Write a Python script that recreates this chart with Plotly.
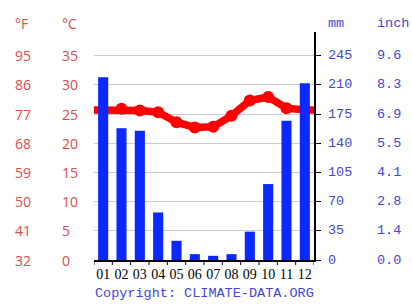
import plotly.graph_objects as go

months = ["01", "02", "03", "04", "05", "06", "07", "08", "09", "10", "11", "12"]
temp_c = [25.7, 25.9, 25.6, 25.3, 23.6, 22.7, 22.8, 24.7, 27.3, 27.9, 26.0, 25.7]
precip_mm = [219, 158, 155, 57, 23, 7, 5, 7, 34, 91, 167, 212]

c_ticks = [0, 5, 10, 15, 20, 25, 30, 35]
f_labels = ["32", "41", "50", "59", "68", "77", "86", "95"]
mm_ticks = [0, 35, 70, 105, 140, 175, 210, 245]
inch_labels = ["0.0", "1.4", "2.8", "4.1", "5.5", "6.9", "8.3", "9.6"]

W, H = 412, 305
L, R = 94.3, 314.5
T, B = 32, 260
c_max = (B - T) / 29.2 * 5
mm_max = c_max * 7

RED_TXT = "#dd4b4b"
BLUE_TXT = "#4646d2"
BAR = "#0a28ff"
LINE = "#ff0000"


def px(x):
    return (x - L) / (R - L)


idx = list(range(len(months)))
edge = (temp_c[0] + temp_c[-1]) / 2
line_x = [-0.5] + idx + [len(months) - 0.5]
line_y = [edge] + temp_c + [edge]

fig = go.Figure()
fig.add_trace(go.Bar(x=idx, y=precip_mm, yaxis="y2", marker=dict(color=BAR, line=dict(width=0)),
                     width=0.55, showlegend=False))
fig.add_trace(go.Scatter(x=line_x, y=line_y, yaxis="y", mode="lines",
                         line=dict(color=LINE, width=7.5), showlegend=False, cliponaxis=True))
fig.add_trace(go.Scatter(x=idx, y=temp_c, yaxis="y", mode="markers",
                         marker=dict(color=LINE, size=12), showlegend=False))

ann = []
for v, f in zip(c_ticks, f_labels):
    ann.append(dict(x=px(13), y=v, xref="paper", yref="y", text=f, showarrow=False,
                    xanchor="left", yanchor="middle",
                    font=dict(family="Open Sans", size=14, color=RED_TXT)))
    ann.append(dict(x=px(60), y=v, xref="paper", yref="y", text=str(v), showarrow=False,
                    xanchor="left", yanchor="middle",
                    font=dict(family="Open Sans", size=14, color=RED_TXT)))
for v, inch in zip(mm_ticks, inch_labels):
    ann.append(dict(x=px(327), y=v, xref="paper", yref="y2", text=str(v), showarrow=False,
                    xanchor="left", yanchor="middle",
                    font=dict(family="Liberation Mono", size=13.5, color=BLUE_TXT)))
    ann.append(dict(x=px(376), y=v, xref="paper", yref="y2", text=inch, showarrow=False,
                    xanchor="left", yanchor="middle",
                    font=dict(family="Liberation Mono", size=13.5, color=BLUE_TXT)))

hdr_y = 1 + (T - 24) / (B - T)
for x0, t, col, fam, sz in [(13, "°F", RED_TXT, "Open Sans", 14), (60, "°C", RED_TXT, "Open Sans", 14),
                            (327, "mm", BLUE_TXT, "Liberation Mono", 13.5),
                            (376, "inch", BLUE_TXT, "Liberation Mono", 13.5)]:
    ann.append(dict(x=px(x0), y=hdr_y, xref="paper", yref="paper", text=t, showarrow=False,
                    xanchor="left", yanchor="middle", font=dict(family=fam, size=sz, color=col)))

ann.append(dict(x=px(205), y=-(293 - B) / (B - T), xref="paper", yref="paper",
                text="Copyright: CLIMATE-DATA.ORG", showarrow=False, xanchor="center", yanchor="middle",
                font=dict(family="Liberation Mono", size=13.5, color=BLUE_TXT)))

bounds = [i - 0.5 for i in range(len(months) + 1)]
shapes = [dict(type="line", xref="x", yref="paper", x0=b, x1=b, y0=0, y1=-5 / (B - T),
               line=dict(color="black", width=1)) for b in bounds]

fig.update_layout(
    width=W, height=H,
    margin=dict(l=L, r=W - R, t=T, b=H - B, pad=0),
    paper_bgcolor="white", plot_bgcolor="white",
    xaxis=dict(range=[-0.5, len(months) - 0.5], tickvals=idx, ticktext=months, tickangle=0,
               showline=True, linecolor="black", linewidth=1.5, ticks="", ticklen=5,
               showgrid=False, zeroline=False,
               tickfont=dict(family="Liberation Serif", size=14, color="black")),
    yaxis=dict(range=[0, c_max], tickvals=c_ticks, showgrid=True, gridcolor="#cccccc", gridwidth=1,
               showticklabels=False, showline=False, zeroline=False, ticks=""),
    yaxis2=dict(range=[0, mm_max], overlaying="y", side="right", tickvals=mm_ticks, showgrid=False,
                showticklabels=False, showline=True, linecolor="black", linewidth=1.5,
                ticks="outside", ticklen=5, tickcolor="black", zeroline=False),
    annotations=ann,
    shapes=shapes,
)

fig.write_html("out.html")
